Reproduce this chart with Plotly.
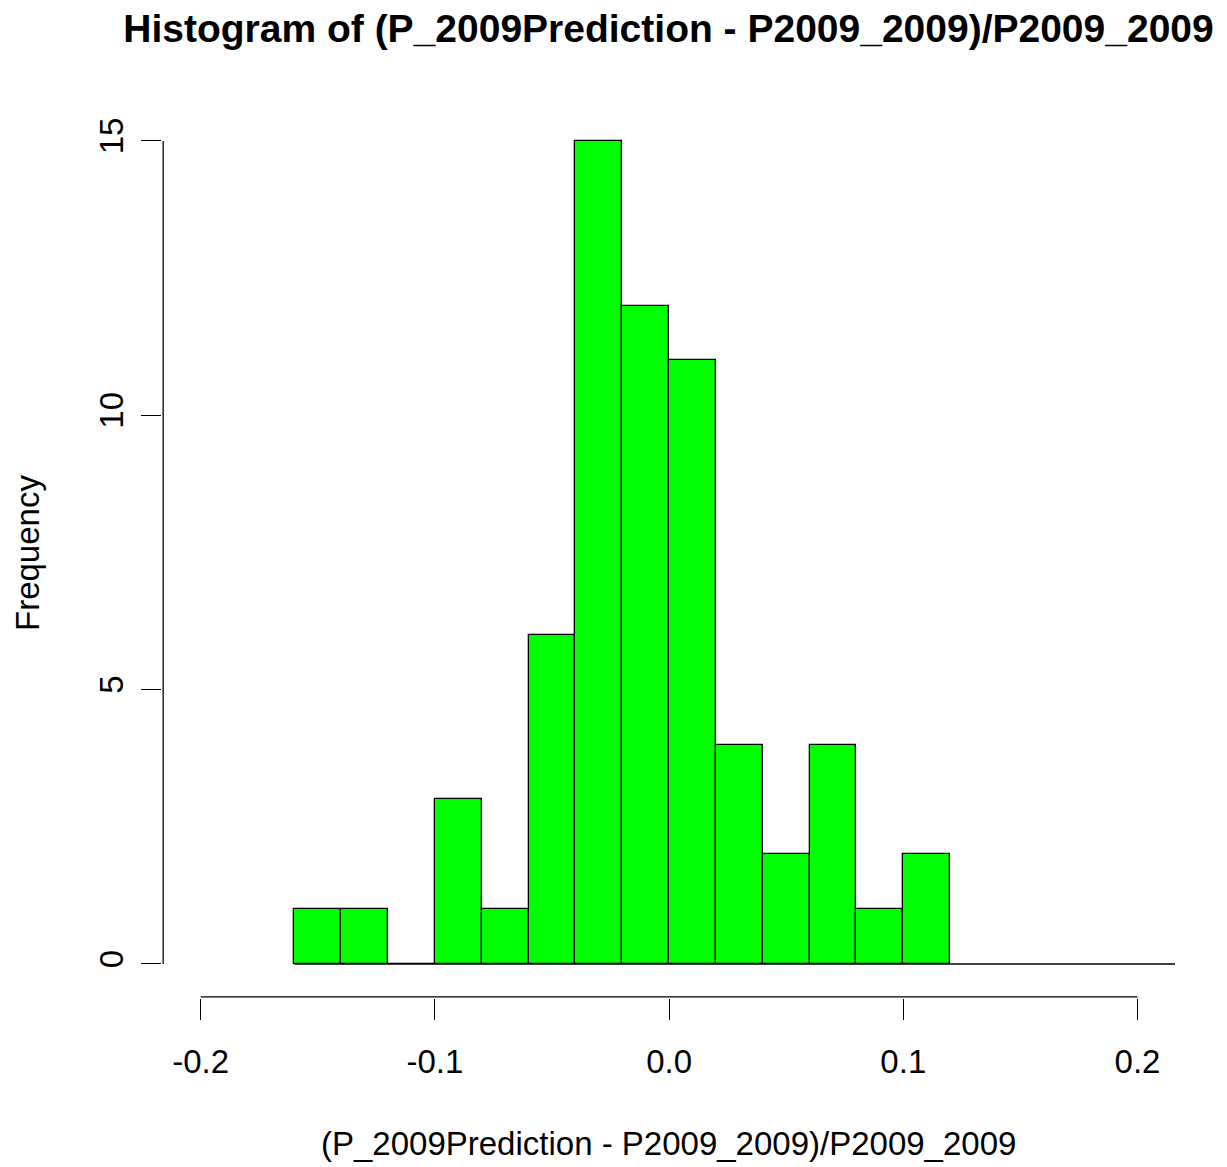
import plotly.graph_objects as go

# ---- data ----
bin_edges = [-0.16, -0.14, -0.12, -0.10, -0.08, -0.06, -0.04, -0.02,
             0.00, 0.02, 0.04, 0.06, 0.08, 0.10, 0.12]
counts = [1, 1, 0, 3, 1, 6, 15, 12, 11, 4, 2, 4, 1, 2]
x_ticks = [-0.2, -0.1, 0.0, 0.1, 0.2]
x_tick_labels = ["-0.2", "-0.1", "0.0", "0.1", "0.2"]
y_ticks = [0, 5, 10, 15]
y_tick_labels = ["0", "5", "10", "15"]

title_text = "Histogram of (P_2009Prediction - P2009_2009)/P2009_2009"
x_title = "(P_2009Prediction - P2009_2009)/P2009_2009"
y_title = "Frequency"

# ---- layout constants ----
OFF = 8  # page body margin
XR = [-0.2165, 0.216]
YR = [-0.62, 15.6]
FONT = "Liberation Sans, Arial, sans-serif"
W, H = 1227 - OFF, 1167 - OFF
ML, MT = 163 - OFF - 1, 107 - OFF + 1
MR = W - (1175 - OFF)
MB = H - (998 - OFF)

centers = [(a + b) / 2 for a, b in zip(bin_edges[:-1], bin_edges[1:])]
widths = [b - a for a, b in zip(bin_edges[:-1], bin_edges[1:])]

fig = go.Figure()

# baseline (R draws the bottom of every bin, incl. empty ones)
fig.add_trace(go.Scatter(x=[bin_edges[0], XR[1]], y=[0, 0], mode="lines",
                         line=dict(color="black", width=1.3),
                         hoverinfo="skip", showlegend=False))

fig.add_trace(go.Bar(x=centers, y=counts, width=widths,
                     marker=dict(color="#00FF00", line=dict(color="black", width=1.3)),
                     showlegend=False))

# axis lines spanning only first..last tick (R style)
fig.add_trace(go.Scatter(x=[x_ticks[0], x_ticks[-1]], y=[-0.6, -0.6], mode="lines",
                         line=dict(color="black", width=1.3),
                         hoverinfo="skip", showlegend=False))
fig.add_trace(go.Scatter(x=[-0.216, -0.216], y=[y_ticks[0], y_ticks[-1]], mode="lines",
                         line=dict(color="black", width=1.3),
                         hoverinfo="skip", showlegend=False))

fig.update_layout(
    width=W, height=H,
    margin=dict(l=ML, r=MR, t=MT, b=MB),
    paper_bgcolor="white", plot_bgcolor="white",
    bargap=0,
    font=dict(family=FONT, color="black"),
    title=dict(text="<b>" + title_text + "</b>", x=0.5, xref="paper",
               y=1 - (28 - OFF) / H, yref="container", yanchor="middle", xanchor="center",
               font=dict(size=39, family=FONT, color="black")),
    xaxis=dict(range=XR, showgrid=False, zeroline=False, showline=False,
               tickmode="array", tickvals=x_ticks, ticktext=x_tick_labels,
               ticks="outside", ticklen=21, tickwidth=1.3, tickcolor="black",
               tickfont=dict(size=33, family=FONT, color="black"),
               ticklabelstandoff=13),
    yaxis=dict(range=YR, showgrid=False, zeroline=False, showline=False,
               tickmode="array", tickvals=y_ticks, ticktext=y_tick_labels,
               ticks="outside", ticklen=20, tickwidth=1.3, tickcolor="black",
               tickangle=-90,
               tickfont=dict(size=33, family=FONT, color="black"),
               ticklabelstandoff=5),
    annotations=[
        dict(text=x_title, xref="paper", yref="paper", x=0.5, y=0,
             xanchor="center", yanchor="middle", yshift=-(1143 - 998),
             showarrow=False, font=dict(size=33, family=FONT, color="black")),
        dict(text=y_title, xref="paper", yref="paper", x=0, y=0.5,
             xanchor="center", yanchor="middle", xshift=28 - 163, textangle=-90,
             showarrow=False, font=dict(size=33, family=FONT, color="black")),
    ],
)

fig.write_html("out.html")
